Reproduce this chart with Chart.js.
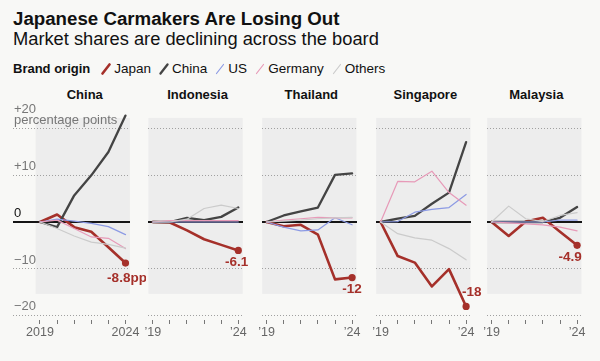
<!DOCTYPE html>
<html><head><meta charset="utf-8">
<script src="https://cdn.jsdelivr.net/npm/chart.js@4"></script>
<style>
html,body{margin:0;padding:0}
body{background:#f8f8f6;width:600px;height:361px;overflow:hidden;position:relative;font-family:"Liberation Sans",Arial,sans-serif;color:#111}
.h1{position:absolute;left:13px;top:7.6px;font-size:18.7px;line-height:22px;font-weight:bold;white-space:nowrap}
.h2{position:absolute;left:13px;top:27.7px;font-size:18.3px;line-height:22px;white-space:nowrap}
.lg{position:absolute;left:13px;top:60.8px;font-size:13.5px;line-height:16px;white-space:nowrap;display:flex;align-items:center}
.lg b{font-size:13px;margin-right:11px}
.lg .it{display:flex;align-items:center;margin-right:8px}
.lg svg{margin-right:3px}
.pt{position:absolute;top:86.8px;font-size:13px;line-height:16px;font-weight:bold;white-space:nowrap;transform:translateX(-50%)}
canvas{position:absolute}
</style>
</head><body>
<div class="h1">Japanese Carmakers Are Losing Out</div>
<div class="h2">Market shares are declining across the board</div>
<div class="lg" id="legend"><b>Brand origin</b></div>
<script>
// ---- data (percentage-point change in market share since 2019) ----
const years = [2019, 2020, 2021, 2022, 2023, 2024];
const countries = ['China', 'Indonesia', 'Thailand', 'Singapore', 'Malaysia'];
const seriesNames = ['Japan', 'China', 'US', 'Germany', 'Others'];
// one row per country, in the order of `countries`
const japan = [
  [0, 1.6, -1.1, -2.1, -5.4, -8.8],
  [0, -0.1, -1.8, -3.7, -4.9, -6.1],
  [0, -0.9, -0.6, -2.7, -12.3, -11.9],
  [0, -7.3, -8.7, -13.8, -10.1, -18.1],
  [0, -3.0, 0.1, 0.9, -2.1, -5.0]
];
const china = [
  [0, -1.1, 5.7, 10.0, 15.0, 22.8],
  [0, 0, 0.9, 0.4, 1.1, 3.1],
  [0, 1.4, 2.3, 3.1, 10.1, 10.4],
  [0, 0.7, 1.3, 3.9, 6.3, 17.1],
  [0, 0, 0, 0, 0.9, 3.2]
];
const us = [
  [0, 0.6, 0.2, -0.3, -1.0, -2.7],
  [0, 0, 0, 0, 0, 0],
  [0, -1.1, -1.9, -1.7, 0.9, -0.6],
  [0, 0.1, 2.1, 2.7, 3.1, 5.9],
  [0, 0, 0, 0, 0.4, 0.4]
];
const germany = [
  [0, 0.4, -1.4, -3.2, -3.5, -5.7],
  [0, 0.3, 0.3, 0.3, 0.3, 0.3],
  [0, 0.4, 0.7, 1.0, 0.9, 0.9],
  [0, 8.7, 8.6, 10.9, 6.3, 3.6],
  [0, -0.2, -0.4, -0.6, -1.1, -1.9]
];
const others = [
  [0, -1.4, -3.0, -4.3, -4.8, -5.6],
  [0, 0, 0.6, 2.9, 3.6, 2.9],
  [0, 0.2, 0.4, 0.7, 0.9, 1.0],
  [0, -2.5, -3.4, -3.9, -5.7, -8.1],
  [0, 3.4, 0.7, 0.1, 1.4, 2.0]
];
const endLabels = ['-8.8pp', '-6.1', '-12', '-18', '-4.9'];
const yTicks = [20, 10, 0, -10, -20];
const yTickLabels = [['+20', 'percentage points'], ['+10'], ['0'], ['\u221210'], ['\u221220']];

// ---- styling / layout ----
const FONT = '"Liberation Sans", Arial, sans-serif';
const colors = {Japan:'#a5302a', China:'#444444', US:'#8c9ae4', Germany:'#e79ab8', Others:'#cbcbcb'};
const widths = {Japan:2.6, China:2.3, US:1.2, Germany:1.2, Others:1.2};
const seriesData = {Japan:japan, China:china, US:us, Germany:germany, Others:others};
const drawOrder = ['Others', 'Germany', 'US', 'China', 'Japan'];
const x2019 = [40, 152.8, 266.6, 380.6, 491.6];
const PXYR = 17.1;
const SIDE = 4.4;           // px of panel beyond first/last year
const TOP = 110, AREA_H = 210, XAXIS_H = 25;
const PAD_L = 6, PAD_R = 16, PAD_T = 22;
const labelOffsets = [[1.5, 15.6], [-1.6, 11.5], [0, 11.7], [5.7, -14], [-7, 12.3]];
const bandTop = 22.3, bandBottom = -15.4;

// legend
const lg = document.getElementById('legend');
seriesNames.forEach(n => {
  const it = document.createElement('span'); it.className = 'it';
  it.innerHTML = `<svg width="10" height="12" viewBox="0 0 10 12"><line x1="1.5" y1="10.5" x2="8.5" y2="1.5" stroke="${colors[n]}" stroke-width="${widths[n]}" stroke-linecap="round"/></svg><span>${n}</span>`;
  lg.appendChild(it);
});

const panelPlugin = {
  id: 'panel',
  beforeDraw(chart, args, o) {
    const {ctx, scales: {x, y}} = chart;
    const bp = SIDE / PXYR;
    const x0 = x.getPixelForValue(years[0] - bp), x1 = x.getPixelForValue(years[years.length - 1] + bp);
    const y0 = y.getPixelForValue(bandTop), y1 = y.getPixelForValue(bandBottom);
    ctx.save(); ctx.fillStyle = '#ededed'; ctx.fillRect(x0, y0, x1 - x0, y1 - y0); ctx.restore();
  },
  beforeDatasetsDraw(chart, args, o) {
    if (!o.showY) return;
    const {ctx, chartArea, scales: {y}} = chart;
    ctx.save();
    ctx.font = '13px ' + FONT; ctx.textAlign = 'left'; ctx.textBaseline = 'alphabetic';
    yTicks.forEach((v, k) => {
      const py = y.getPixelForValue(v) - 5;
      const lines = yTickLabels[k];
      ctx.fillStyle = v === 0 ? '#111' : '#777';
      lines.forEach((t, j) => ctx.fillText(t, chartArea.left + 1, py - (lines.length - 1 - j) * 11));
    });
    ctx.restore();
  },
  afterDatasetsDraw(chart, args, o) {
    const {ctx} = chart;
    const meta = chart.getDatasetMeta(chart.data.datasets.length - 1);
    const pt = meta.data[meta.data.length - 1];
    ctx.save();
    ctx.font = 'bold 13.5px ' + FONT; ctx.fillStyle = colors.Japan;
    ctx.textAlign = 'center'; ctx.textBaseline = 'middle';
    ctx.fillText(o.label, pt.x + o.dx, pt.y + o.dy);
    ctx.restore();
  }
};

countries.forEach((c, i) => {
  const first = years[0], last = years[years.length - 1];
  const xEnd = x2019[i] + (last - first) * PXYR;
  const L = Math.round(i === 0 ? 13 : x2019[i] - SIDE);
  const R = Math.round(xEnd + SIDE);
  const xmin = first - (x2019[i] - L) / PXYR;
  const xmax = last + (R - xEnd) / PXYR;

  const t = document.createElement('div');
  t.className = 'pt'; t.textContent = c; t.style.left = ((x2019[i] + xEnd) / 2 + 2) + 'px';
  document.body.appendChild(t);

  const cv = document.createElement('canvas');
  const W = (R - L) + PAD_L + PAD_R, H = PAD_T + AREA_H + XAXIS_H;
  cv.width = W; cv.height = H;
  cv.style.left = (L - PAD_L) + 'px'; cv.style.top = (TOP - PAD_T) + 'px';
  cv.style.width = W + 'px'; cv.style.height = H + 'px';
  document.body.appendChild(cv);

  const datasets = drawOrder.map(n => ({
    label: n,
    data: years.map((yr, k) => ({x: yr, y: seriesData[n][i][k]})),
    borderColor: colors[n], backgroundColor: colors[n],
    borderWidth: widths[n],
    pointRadius: n === 'Japan' ? (ctx => ctx.dataIndex === years.length - 1 ? 3.6 : 0) : 0,
    pointBorderWidth: 0,
    pointBackgroundColor: colors[n],
    tension: 0, fill: false
  }));

  new Chart(cv, {
    type: 'line',
    data: {datasets},
    options: {
      responsive: false, animation: false, devicePixelRatio: 1,
      layout: {padding: {left: PAD_L, right: PAD_R, top: PAD_T, bottom: 0}},
      events: [],
      elements: {line: {borderJoinStyle: 'round', borderCapStyle: 'round'}},
      plugins: {
        legend: {display: false}, tooltip: {enabled: false},
        panel: {label: endLabels[i], dx: labelOffsets[i][0], dy: labelOffsets[i][1], showY: i === 0}
      },
      scales: {
        x: {
          type: 'linear', min: xmin, max: xmax,
          afterBuildTicks: s => { s.ticks = s.ticks.filter(tk => tk.value >= first && tk.value <= last); },
          afterFit: s => { s.height = XAXIS_H; s.paddingLeft = 0; s.paddingRight = 0; },
          border: {display: false},
          grid: {drawOnChartArea: false, drawTicks: true, tickLength: 4, tickColor: '#777', tickWidth: 1},
          ticks: {
            stepSize: 1, includeBounds: false, autoSkip: false, maxRotation: 0, minRotation: 0,
            padding: 1, color: '#666', font: {family: FONT, size: 12.5},
            callback: v => v === first ? (i === 0 ? String(first) : '\u2019' + String(first).slice(2))
                         : v === last ? (i === 0 ? String(last) : '\u2019' + String(last).slice(2)) : ''
          }
        },
        y: {
          min: -21, max: 24,
          afterFit: s => { s.width = 0; s.paddingTop = 0; s.paddingBottom = 0; },
          ticks: {display: false, stepSize: 10, includeBounds: false},
          border: {display: false, dash: ctx => (ctx.tick && ctx.tick.value === 0) ? [] : [1, 2]},
          grid: {
            drawTicks: false,
            color: ctx => ctx.tick.value === 0 ? '#151515' : '#a0a0a0',
            lineWidth: ctx => ctx.tick.value === 0 ? 2 : 1
          }
        }
      }
    },
    plugins: [panelPlugin]
  });
});
</script>
</body></html>
